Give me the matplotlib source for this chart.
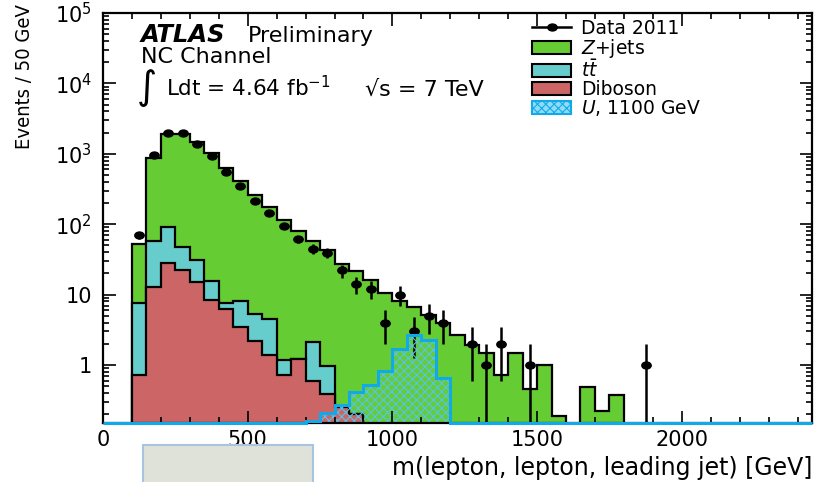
import numpy as np
import matplotlib
matplotlib.use('Agg')
import matplotlib.pyplot as plt
from matplotlib.lines import Line2D
from matplotlib.patches import Patch, Rectangle
from matplotlib.markers import MarkerStyle
from matplotlib.transforms import Affine2D
from matplotlib.ticker import MultipleLocator, LogLocator, NullFormatter, FuncFormatter

plt.rcParams['font.family'] = ['DejaVu Sans']
plt.rcParams['hatch.linewidth'] = 0.8

# 50 GeV bins, 100 -> 1900 GeV
bin_lo = 100
bin_w = 50
x_max = 2450

diboson = [0.73, 12.8, 28.2, 22.2, 15.1, 8.5, 6.3, 3.5, 2.2, 1.37, 0.73, 1.21,
           0.59, 0.39, 0.25, 0.2] + [0.0] * 20
ttbar = [6.9, 44.7, 61.8, 24.5, 15.7, 7.0, 1.4, 4.5, 3.16, 3.18, 0.46, 0.0,
         1.52, 0.59] + [0.0] * 22
zjets = [45.4, 825, 1830, 1873, 1459, 1005, 615, 403, 255, 172.5, 112.8, 79.3,
         55.9, 41.8, 27.4, 21.5, 16.0, 10.5, 8.2, 6.66, 5.1, 3.9, 2.63, 1.95,
         1.47, 0.71, 1.47, 0.46, 1.0, 0.19, 0.0, 0.48, 0.225, 0.37, 0.0, 0.0]
signal = [0.0] * 12 + [0.16, 0.21, 0.27, 0.42, 0.52, 0.83, 1.7, 2.65, 2.3,
                       0.66] + [0.0] * 14
data = [70, 963, 1970, 1970, 1380, 943, 557, 350, 213, 142, 95, 61, 45, 39,
        22, 14, 12, 4, 10, 3, 5, 4, 0, 2, 1, 2, 0, 1, 0, 0, 0, 0, 0, 0, 0, 1]

c_green = '#66cc33'
c_cyan = '#66cccc'
c_red = '#cc6666'
c_sig = '#12a9ea'
c_hatch = '#55c4ee'

n_bins = len(data)
edges = bin_lo + bin_w * np.arange(n_bins + 1)
centers = 0.5 * (edges[:-1] + edges[1:])

ymin, ymax = 0.15, 1e5
floor = 1e-3

dib = np.array(diboson)
top_tt = dib + np.array(ttbar)
top_z = top_tt + np.array(zjets)

fig = plt.figure(figsize=(8.15, 4.82), dpi=100, facecolor='w')
ax = fig.add_axes([103 / 815, 59 / 482, 709 / 815, 410 / 482])
ax.set_yscale('log')
ax.set_xlim(0, x_max)
ax.set_ylim(ymin, ymax)

# stacked backgrounds, total drawn first
ax.stairs(np.maximum(top_z, floor), edges, baseline=floor, fill=True,
          facecolor=c_green, edgecolor='k', lw=1.6, zorder=1)
ax.stairs(np.maximum(top_tt, floor), edges, baseline=floor, fill=True,
          facecolor=c_cyan, edgecolor='k', lw=1.6, zorder=1.1)
ax.stairs(np.maximum(dib, floor), edges, baseline=floor, fill=True,
          facecolor=c_red, edgecolor='k', lw=1.6, zorder=1.2)

# data with sqrt(N) errors
d = np.array(data, dtype=float)
m = d > 0
ell = MarkerStyle('o', transform=Affine2D().scale(1.35, 1.0))
ax.errorbar(centers[m], d[m], yerr=np.sqrt(d[m]), fmt='none', ecolor='k',
            elinewidth=1.8, zorder=2)
ax.plot(centers[m], d[m], ls='none', marker=ell, color='k', markersize=5,
        zorder=2.1)

# signal, hatched, spans the full x range
full_edges = np.arange(0, x_max + 1, bin_w)
sig = np.pad(np.array(signal), (bin_lo // bin_w,
                                len(full_edges) - 1 - n_bins - bin_lo // bin_w))
ax.stairs(np.maximum(sig, floor), full_edges, baseline=floor, fill=True,
          facecolor='none', edgecolor=c_hatch, hatch='xxxx', lw=0, zorder=2.2)
ax.stairs(np.maximum(sig, ymin), full_edges, baseline=None, color=c_sig,
          lw=2.2, zorder=3, clip_on=False)

# axes style
ax.xaxis.set_major_locator(MultipleLocator(500))
ax.xaxis.set_minor_locator(MultipleLocator(100))
ax.yaxis.set_major_locator(LogLocator(base=10))
ax.yaxis.set_minor_locator(LogLocator(base=10, subs=np.arange(2, 10)))
ax.yaxis.set_minor_formatter(NullFormatter())
ax.yaxis.set_major_formatter(FuncFormatter(
    lambda v, p: '1' if v == 1 else ('10' if v == 10 else r'$10^{%d}$' % round(np.log10(v)))))
ax.tick_params(which='both', direction='in', top=True, right=True, width=1.2,
               labelsize=15)
ax.tick_params(which='major', length=9)
ax.tick_params(which='minor', length=4.5)
ax.tick_params(axis='x', pad=5)
ax.tick_params(axis='y', pad=8)
for s in ax.spines.values():
    s.set_linewidth(1.6)
ax.set_axisbelow(False)

ax.set_xlabel('m(lepton, lepton, leading jet) [GeV]', fontsize=17, loc='right')
ax.xaxis.set_label_coords(1.0, -0.08)
ax.set_ylabel('Events / 50 GeV', fontsize=14.5, loc='top', fontstretch='condensed')
ax.yaxis.set_label_coords(-0.097, 1.022)

# labels
fig.text(141 / 815, 1 - 42 / 482, 'ATLAS', weight='bold', style='italic',
         size=17.5, va='baseline')
fig.text(248 / 815, 1 - 42 / 482, 'Preliminary', size=16, va='baseline')
fig.text(141 / 815, 1 - 63 / 482, 'NC Channel', size=16, va='baseline')
fig.text(137 / 815, 1 - 88 / 482, '\u222b', size=28, va='center')
fig.text(166 / 815, 1 - 96 / 482, 'Ldt = 4.64 fb$^{-1}$', size=15.5, va='baseline')
fig.text(365 / 815, 1 - 96 / 482, '\u221as = 7 TeV', size=16, va='baseline')

handles = [
    Line2D([], [], color='k', lw=1.8, marker=ell, markersize=5),
    Patch(facecolor=c_green, edgecolor='k', lw=1.5),
    Patch(facecolor=c_cyan, edgecolor='k', lw=1.5),
    Patch(facecolor=c_red, edgecolor='k', lw=1.5),
    Patch(facecolor='#8fdcf7', edgecolor=c_sig, hatch='xxxx', lw=1.5),
]
labels = ['Data 2011', '$Z$+jets', r'$t\bar{t}$', 'Diboson', '$U$, 1100 GeV']
ax.legend(handles, labels, loc='upper left',
          bbox_to_anchor=(532 / 815, 1 - 19 / 482), bbox_transform=fig.transFigure,
          frameon=False, fontsize=13.5, handlelength=2.1, handleheight=0.75,
          handletextpad=0.5, labelspacing=-0.05, borderpad=0, borderaxespad=0)

# grey box under the axis
fig.patches.append(Rectangle((143 / 815, -3 / 482), 170 / 815, 40 / 482,
                             transform=fig.transFigure, facecolor='#dfe2d8',
                             edgecolor='#a8c4e0', lw=1.5))

fig.savefig('out.png', dpi=100)
